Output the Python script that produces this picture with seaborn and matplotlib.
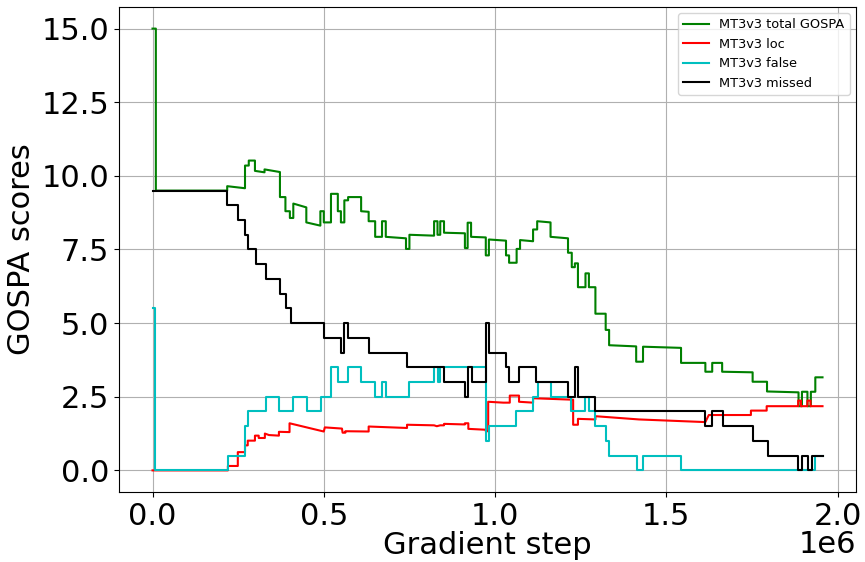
import matplotlib
matplotlib.use("Agg")
import matplotlib.pyplot as plt
import seaborn as sns

# Gradient steps are stored in thousands of steps.
# Total GOSPA and localisation error: polyline vertices (x, y).
total_x = [0, 9.7, 9.7, 218, 218, 270, 270, 281, 281, 299, 299, 327, 327, 372, 372, 388, 388,
           401, 401, 411, 411, 449, 449, 490, 490, 500, 500, 521, 521, 541, 541, 550, 550,
           560, 560, 571, 571, 609, 609, 631, 631, 650, 650, 670, 670, 681, 681, 740, 740,
           750, 750, 822, 822, 832, 832, 840, 840, 851, 851, 912, 912, 920, 920, 930, 930,
           973, 973, 982, 982, 1032, 1032, 1041, 1041, 1063, 1063, 1073, 1073, 1111, 1111,
           1123, 1123, 1162, 1162, 1213, 1213, 1224, 1224, 1233, 1233, 1242, 1242, 1264, 1264,
           1274, 1274, 1293, 1293, 1323, 1323, 1333, 1333, 1412, 1412, 1432, 1432, 1543, 1543,
           1614, 1614, 1634, 1634, 1663, 1663, 1752, 1752, 1794, 1794, 1886, 1886, 1896, 1896,
           1912, 1912, 1922, 1922, 1935, 1935, 1956]
total_y = [15.0, 15.0, 9.5, 9.5, 9.65, 9.58, 10.35, 10.35, 10.52, 10.52, 10.17, 10.12, 10.22,
           10.13, 9.28, 9.28, 8.80, 8.80, 8.57, 8.57, 9.06, 8.93, 8.42, 8.31, 8.80, 8.80, 8.42,
           8.42, 9.39, 9.39, 8.80, 8.80, 8.42, 8.42, 9.17, 9.17, 9.28, 9.28, 8.80, 8.78, 8.46,
           8.46, 7.93, 7.93, 8.46, 8.46, 7.93, 7.88, 7.52, 7.52, 8.00, 7.97, 8.46, 8.46, 8.00,
           8.00, 8.46, 8.46, 8.07, 8.05, 7.55, 7.55, 8.41, 8.41, 7.93, 7.91, 7.30, 7.30, 7.84,
           7.80, 7.30, 7.30, 7.05, 7.05, 7.52, 7.52, 7.82, 7.78, 8.18, 8.18, 8.46, 8.42, 7.93,
           7.88, 7.39, 7.39, 6.90, 6.90, 7.03, 7.03, 6.22, 6.22, 6.69, 6.69, 6.22, 6.22, 5.32,
           5.32, 4.77, 4.77, 4.25, 4.21, 3.69, 3.69, 4.20, 4.16, 3.65, 3.65, 3.35, 3.35, 3.65,
           3.65, 3.35, 3.33, 3.01, 3.01, 2.68, 2.65, 2.18, 2.18, 2.67, 2.67, 2.18, 2.18, 2.67,
           2.67, 3.16, 3.16]

loc_x = [0, 220, 220, 249, 249, 270, 270, 278, 278, 299, 299, 310, 310, 328, 328, 340, 369,
         369, 400, 400, 500, 503, 553, 555, 563, 563, 631, 631, 743, 743, 822, 830, 840, 851,
         851, 912, 912, 922, 922, 973, 973, 980, 980, 1024, 1043, 1043, 1070, 1070, 1111, 1111,
         1228, 1228, 1242, 1242, 1293, 1293, 1420, 1614, 1624, 1747, 1747, 1793, 1793, 1885,
         1885, 1893, 1893, 1912, 1912, 1921, 1921, 1956]
loc_y = [0.0, 0.0, 0.15, 0.15, 0.62, 0.62, 0.85, 0.85, 1.01, 1.01, 1.18, 1.18, 1.10, 1.10,
         1.25, 1.20, 1.18, 1.31, 1.30, 1.60, 1.32, 1.46, 1.42, 1.28, 1.28, 1.33, 1.32, 1.49,
         1.44, 1.55, 1.53, 1.50, 1.53, 1.53, 1.58, 1.56, 1.60, 1.60, 1.41, 1.38, 1.33, 1.33,
         2.33, 2.30, 2.30, 2.54, 2.54, 2.33, 2.30, 2.45, 2.40, 1.55, 1.55, 1.75, 1.73, 1.84,
         1.73, 1.64, 1.88, 1.88, 2.03, 2.03, 2.18, 2.18, 2.37, 2.37, 2.18, 2.18, 2.37, 2.37,
         2.18, 2.18]

# False and missed errors: piecewise-constant, value holds until the next step.
false_x = [0, 6, 220, 270, 279, 331, 370, 411, 450, 491, 521, 541, 571, 610, 650, 670, 681,
           750, 822, 832, 840, 973, 982, 1062, 1111, 1124, 1162, 1223, 1264, 1274, 1293, 1323,
           1333, 1413, 1433, 1543, 1933, 1956]
false_y = [5.5, 0.0, 0.5, 1.5, 2.0, 2.5, 2.0, 2.5, 2.0, 2.5, 3.5, 3.0, 3.5, 3.0, 2.5, 3.0,
           2.5, 3.0, 3.5, 3.0, 3.5, 1.0, 1.5, 2.0, 2.5, 3.0, 2.5, 2.0, 2.5, 2.0, 1.5, 1.0, 0.5,
           0.0, 0.5, 0.0, 0.5, 0.5]

missed_x = [0, 218, 249, 270, 280, 301, 330, 371, 391, 403, 500, 551, 560, 571, 632, 743,
            851, 912, 922, 932, 973, 982, 1031, 1041, 1070, 1121, 1213, 1233, 1242, 1293, 1614,
            1634, 1665, 1754, 1796, 1885, 1895, 1915, 1925, 1956]
missed_y = [9.5, 9.0, 8.5, 8.0, 7.5, 7.0, 6.5, 6.0, 5.5, 5.0, 4.5, 4.0, 5.0, 4.5, 4.0, 3.5,
            3.0, 2.5, 3.5, 3.0, 5.0, 4.0, 3.5, 3.0, 3.5, 3.0, 2.5, 3.5, 2.5, 2.0, 1.5, 2.0,
            1.5, 1.0, 0.5, 0.0, 0.5, 0.0, 0.5, 0.5]

labels = ["MT3v3 total GOSPA", "MT3v3 loc", "MT3v3 false", "MT3v3 missed"]
colors = ["g", "r", "c", "k"]

fig = plt.figure(figsize=(8.65, 5.62), dpi=100)
ax = fig.add_axes([0.1376, 0.1237, 0.852, 0.8647])

def scaled(xs):
    return [v * 1000 for v in xs]

sns.lineplot(x=scaled(total_x), y=total_y, estimator=None, sort=False, color=colors[0],
             label=labels[0], linewidth=1.5, ax=ax)
sns.lineplot(x=scaled(loc_x), y=loc_y, estimator=None, sort=False, color=colors[1],
             label=labels[1], linewidth=1.5, ax=ax)
sns.lineplot(x=scaled(false_x), y=false_y, estimator=None, sort=False, color=colors[2],
             label=labels[2], linewidth=1.5, drawstyle="steps-post", ax=ax)
sns.lineplot(x=scaled(missed_x), y=missed_y, estimator=None, sort=False, color=colors[3],
             label=labels[3], linewidth=1.5, drawstyle="steps-post", ax=ax)

fs = 22
ax.grid(True, color="#b0b0b0", linewidth=0.8)
ax.set_xlabel("Gradient step", fontsize=fs, labelpad=0)
ax.set_ylabel("GOSPA scores", fontsize=fs)
ax.tick_params(labelsize=fs)
ax.ticklabel_format(axis="x", style="sci", scilimits=(0, 0))
ax.xaxis.get_offset_text().set_fontsize(fs)
# keep the "1e6" multiplier close under the tick labels
ax.xaxis.OFFSETTEXTPAD = -1
ax.legend(loc="upper right", fontsize=9.3)

fig.savefig("out.png", dpi=100)
